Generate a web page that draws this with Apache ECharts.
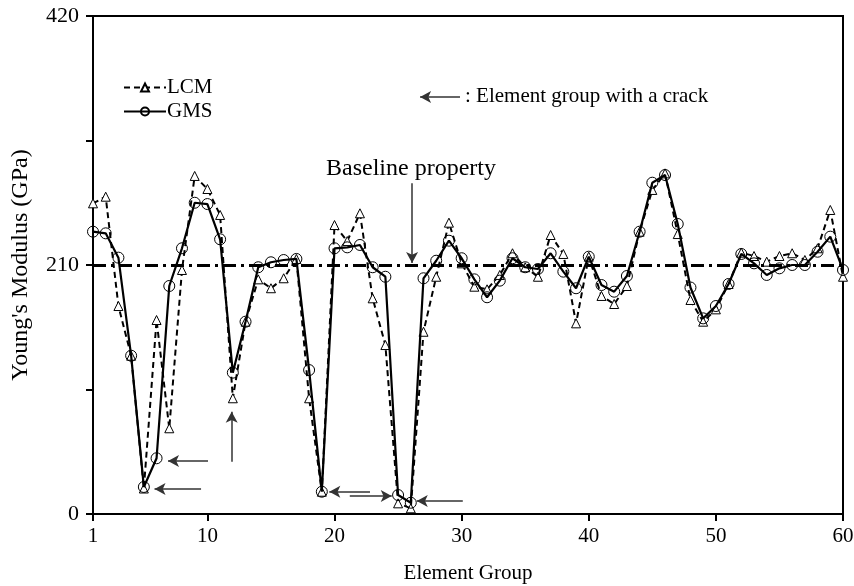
<!DOCTYPE html>
<html>
<head>
<meta charset="utf-8">
<script src="https://cdn.jsdelivr.net/npm/echarts@6/dist/echarts.min.js"></script>
<style>
html,body{margin:0;padding:0;background:#fff;}
#chart{width:854px;height:586px;}
</style>
</head>
<body>
<div id="chart"></div>
<script>
// element groups 1..60
var groups = [];
for (var g = 1; g <= 60; g++) groups.push(g);

// Young's modulus (GPa)
var lcm = [262.0, 267.6, 175.4, 133.5, 21.5, 163.6, 72.3, 205.8, 285.1, 274.1,
           252.2, 97.6, 162.2, 197.9, 190.4, 198.8, 215.1, 97.6, 18.8, 243.7,
           230.2, 253.6, 181.9, 142.5, 9.0, 4.8, 153.7, 200.1, 245.7, 211.4,
           191.7, 189.5, 201.6, 219.9, 208.1, 200.1, 235.3, 219.3, 160.8, 217.0,
           183.9, 177.1, 192.3, 238.1, 273.3, 287.3, 236.1, 180.5, 162.2, 172.6,
           194.0, 220.4, 217.6, 212.8, 217.6, 219.9, 214.2, 224.1, 256.4, 200.1];
var gms = [238.1, 236.7, 216.2, 133.5, 22.8, 47.0, 192.3, 224.1, 262.5, 261.4,
           231.7, 119.2, 162.2, 208.1, 212.3, 214.2, 215.1, 121.4, 18.8, 224.1,
           224.9, 226.9, 208.1, 200.1, 16.0, 9.5, 198.8, 213.6, 230.5, 215.7,
           197.9, 182.8, 196.8, 215.7, 208.1, 206.6, 219.9, 204.4, 190.4, 217.0,
           193.1, 187.5, 200.7, 238.1, 279.4, 285.9, 244.6, 191.0, 165.0, 175.4,
           194.0, 219.3, 211.4, 201.6, 207.2, 210.0, 210.0, 221.2, 233.9, 205.8];

var xTicks = [1, 10, 20, 30, 40, 50, 60];
var yLabels = [0, 210, 420];
var baseline = 210;

// arrows: [from, to] in data units (group, GPa)
var arrows = [
    [[10.05, 44.7], [6.9, 44.7]],
    [[9.5, 21.1], [5.84, 21.1]],
    [[11.91, 44.1], [11.91, 86.3]],
    [[22.79, 18.8], [19.59, 18.8]],
    [[21.2, 15.2], [24.5, 15.2]],
    [[30.09, 11.0], [26.47, 11.0]],
    [[26.1, 279], [26.1, 211.7]],
    [[29.87, 351.7], [26.73, 351.7]]
];

var FONT = 'Liberation Serif';

function pairs(vals){
    return vals.map(function(v, i){ return [groups[i], v]; });
}

var chart = echarts.init(document.getElementById('chart'));

chart.setOption({
    animation: false,
    textStyle: {fontFamily: FONT, color: '#000'},
    grid: {
        left: 93, right: 11, top: 16, bottom: 72,
        outerBoundsMode: 'none',
        show: true, borderColor: '#000', borderWidth: 2
    },
    legend: {
        data: ['LCM', 'GMS'],
        orient: 'vertical',
        left: 118, top: 72,
        itemWidth: 42, itemHeight: 10, itemGap: 3,
        textStyle: {fontFamily: FONT, fontSize: 21, color: '#000', padding: [0, 0, 0, -4]}
    },
    xAxis: {
        type: 'value',
        min: 1, max: 60,
        name: 'Element Group',
        nameLocation: 'middle',
        nameGap: 49,
        nameTextStyle: {fontFamily: FONT, fontSize: 21, color: '#000'},
        axisLine: {lineStyle: {color: '#000', width: 2}},
        axisTick: {customValues: xTicks, length: 7, lineStyle: {color: '#000', width: 2}},
        axisLabel: {customValues: xTicks, margin: 12, fontFamily: FONT, fontSize: 21, color: '#000'},
        splitLine: {show: false}
    },
    yAxis: {
        type: 'value',
        min: 0, max: 420, interval: 105,
        name: "Young's Modulus (GPa)",
        nameLocation: 'middle',
        nameGap: 60,
        nameTextStyle: {fontFamily: FONT, fontSize: 24, color: '#000'},
        axisLine: {show: true, lineStyle: {color: '#000', width: 2}},
        axisTick: {length: 7, lineStyle: {color: '#000', width: 2}},
        axisLabel: {
            margin: 14, fontFamily: FONT, fontSize: 22, color: '#000',
            formatter: function(v){ return yLabels.indexOf(v) >= 0 ? String(v) : ''; }
        },
        splitLine: {show: false}
    },
    graphic: [
        {type: 'text', left: 326, top: 157, style: {text: 'Baseline property', font: '24px "Liberation Serif"', fill: '#000'}},
        {type: 'text', left: 465, top: 86, style: {text: ': Element group with a crack', font: '21px "Liberation Serif"', fill: '#000'}}
    ],
    series: [
        {
            name: 'LCM',
            type: 'line',
            data: pairs(lcm),
            symbol: 'triangle',
            symbolSize: 9,
            showAllSymbol: true,
            itemStyle: {color: '#fff', borderColor: '#000', borderWidth: 1},
            lineStyle: {color: '#000', width: 2, type: [6, 4]},
            z: 3
        },
        {
            name: 'GMS',
            type: 'line',
            data: pairs(gms),
            symbol: 'circle',
            symbolSize: 11,
            showAllSymbol: true,
            itemStyle: {color: 'rgba(255,255,255,0)', borderColor: '#000', borderWidth: 1},
            lineStyle: {color: '#000', width: 2.2},
            z: 4
        },
        {
            name: 'notes',
            type: 'line',
            data: [],
            silent: true,
            markLine: {
                silent: true,
                animation: false,
                label: {show: false},
                symbol: 'none',
                lineStyle: {color: '#000', width: 3, type: [13, 5, 3, 5]},
                data: [{yAxis: baseline}]
            },
            z: 2
        },
        {
            name: 'arrows',
            type: 'line',
            data: [],
            silent: true,
            markLine: {
                silent: true,
                animation: false,
                label: {show: false},
                symbol: ['none', 'arrow'],
                symbolSize: [9, 11],
                lineStyle: {color: '#333', width: 1.5, type: 'solid'},
                data: arrows.map(function(a){
                    return [{coord: a[0]}, {coord: a[1]}];
                })
            },
            z: 5
        }
    ]
});
</script>
</body>
</html>
